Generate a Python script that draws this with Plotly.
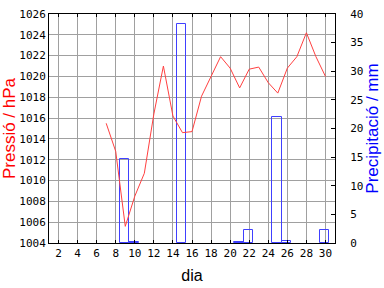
import plotly.graph_objects as go

# pressure readings (day, hPa)
press_days = [7, 8, 9, 10, 11, 12, 13, 14, 15, 16, 17, 18, 19, 20, 21, 22, 23, 24, 25, 26, 27, 28, 29, 30]
press_vals = [1015.5, 1012.8, 1005.6, 1008.5, 1010.7, 1016.4, 1021.0, 1016.2, 1014.6, 1014.7,
              1018.1, 1020.0, 1021.9, 1020.8, 1018.9, 1020.7, 1020.9, 1019.4, 1018.4, 1020.8,
              1021.9, 1024.2, 1021.9, 1020.0]

# precipitation (day, mm)
rain_days = [9, 10, 15, 21, 22, 25, 26, 30]
rain_vals = [14.7, 0.1, 38.2, 0.1, 2.2, 22.0, 0.4, 2.2]

x_ticks = list(range(2, 31, 2))
p_ticks = list(range(1004, 1027, 2))
r_ticks = list(range(0, 41, 5))

RED = "#ff4040"
BLUE = "#4040ff"
GRID = "#a0a0a0"
tickfont = dict(family="DejaVu Sans Mono", size=11, color="black")

fig = go.Figure()
fig.add_trace(go.Bar(
    x=rain_days, y=rain_vals, yaxis="y",
    width=1.0, offset=-0.58,
    marker=dict(color="rgba(0,0,0,0)", line=dict(color=BLUE, width=1)),
    showlegend=False,
))
fig.add_trace(go.Scatter(
    x=press_days, y=press_vals, yaxis="y2", mode="lines",
    line=dict(color=RED, width=1), showlegend=False,
))

fig.update_layout(
    width=384, height=288,
    margin=dict(l=49, r=49, t=14, b=45),
    paper_bgcolor="white", plot_bgcolor="white",
    bargap=0,
    xaxis=dict(
        range=[1, 31], tickvals=x_ticks, ticktext=[str(v) for v in x_ticks],
        showgrid=True, gridcolor=GRID, gridwidth=1,
        showline=True, linecolor="black", linewidth=1, mirror="ticks",
        ticks="inside", ticklen=3, tickcolor="black",
        tickfont=tickfont, zeroline=False, automargin=False,
        title=dict(text="dia", font=dict(family="Liberation Sans", size=16, color="black"), standoff=10),
    ),
    yaxis=dict(
        range=[0, 40], tickvals=r_ticks, side="right",
        showgrid=False, showline=True, linecolor="black", linewidth=1,
        ticks="inside", ticklen=4, tickcolor="black", ticklabelstandoff=12,
        tickfont=tickfont, zeroline=False, automargin=False,
        title=dict(text="Precipitació / mm", font=dict(family="Liberation Sans", size=17, color="blue"), standoff=1),
    ),
    yaxis2=dict(
        range=[1004, 1026], tickvals=p_ticks, side="left", overlaying="y",
        showgrid=True, gridcolor=GRID, gridwidth=1,
        showline=True, linecolor="black", linewidth=1,
        ticks="", tickfont=tickfont, zeroline=False, automargin=False,
        title=dict(text="Pressió / hPa", font=dict(family="Liberation Sans", size=17, color="red"), standoff=0),
    ),
)

fig.write_html("out.html")
